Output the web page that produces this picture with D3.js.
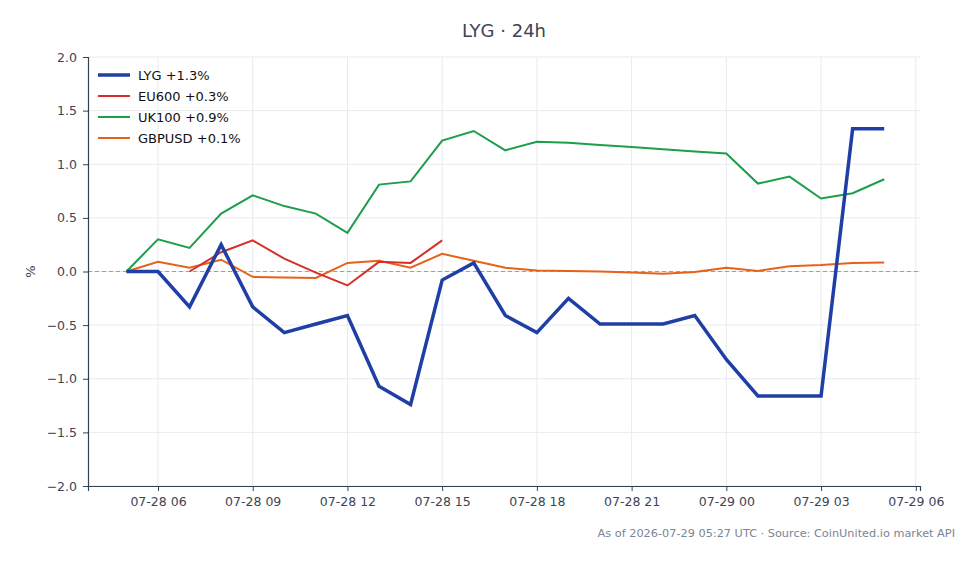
<!DOCTYPE html>
<html>
<head>
<meta charset="utf-8">
<script src="https://cdn.jsdelivr.net/npm/d3@7"></script>
<style>
  body { margin: 0; background: #fff; }
  text { font-family: "DejaVu Sans", sans-serif; }
</style>
</head>
<body>
<div id="chart"></div>
<script>
// hourly points, 2026-07-28 05:00 UTC .. 2026-07-29 05:00 UTC
var hours = d3.range(25).map(function (i) {
  return new Date(Date.UTC(2026, 6, 28, 5 + i));
});

var lyg = [0, 0, -0.33, 0.25, -0.33, -0.57, -0.49, -0.41, -1.07, -1.24, -0.08, 0.08, -0.41,
  -0.57, -0.25, -0.49, -0.49, -0.49, -0.41, -0.82, -1.16, -1.16, -1.16, 1.33, 1.33];
var eu600 = [null, null, 0, 0.18, 0.29, 0.12, -0.01, -0.13, 0.09, 0.08, 0.29, null, null,
  null, null, null, null, null, null, null, null, null, null, null, null];
var uk100 = [0, 0.30, 0.22, 0.54, 0.71, 0.61, 0.54, 0.36, 0.81, 0.84, 1.22, 1.31, 1.13,
  1.21, 1.20, 1.18, 1.16, 1.14, 1.12, 1.10, 0.82, 0.885, 0.68, 0.73, 0.86];
var gbpusd = [0, 0.09, 0.035, 0.11, -0.05, -0.055, -0.06, 0.08, 0.10, 0.035, 0.165, 0.10, 0.035,
  0.01, 0.005, 0, -0.01, -0.02, -0.005, 0.035, 0.005, 0.05, 0.06, 0.08, 0.085];

var seriesNames = ["LYG +1.3%", "EU600 +0.3%", "UK100 +0.9%", "GBPUSD +0.1%"];
var seriesColors = ["#1f3fa6", "#d62f2a", "#1c9e4b", "#e8611a"];
var seriesWidths = [3.5, 2, 2, 2];
var yTicks = [-2.0, -1.5, -1.0, -0.5, 0.0, 0.5, 1.0, 1.5, 2.0];

var width = 979, height = 564;
var margin = { top: 57, right: 59, bottom: 78, left: 88 };
var w = width - margin.left - margin.right;
var h = height - margin.top - margin.bottom;

var svg = d3.select("#chart").append("svg")
  .attr("width", width)
  .attr("height", height);

var x = d3.scaleUtc()
  .domain([new Date(Date.UTC(2026, 6, 28, 3, 47)), new Date(Date.UTC(2026, 6, 29, 6, 8))])
  .range([0, w]);
var y = d3.scaleLinear().domain([-2, 2]).range([h, 0]);

var g = svg.append("g")
  .attr("transform", "translate(" + margin.left + "," + margin.top + ")");

var xTicks = x.ticks(d3.utcHour.every(3));

// grid
g.append("g").selectAll("line").data(yTicks).enter().append("line")
  .attr("x1", 0).attr("x2", w)
  .attr("y1", function (d) { return y(d); })
  .attr("y2", function (d) { return y(d); })
  .attr("stroke", "#e8eaee").attr("stroke-width", 1);
g.append("g").selectAll("line").data(xTicks).enter().append("line")
  .attr("y1", 0).attr("y2", h)
  .attr("x1", function (d) { return x(d); })
  .attr("x2", function (d) { return x(d); })
  .attr("stroke", "#e8eaee").attr("stroke-width", 1);

// zero line
g.append("line")
  .attr("x1", 0).attr("x2", w)
  .attr("y1", y(0)).attr("y2", y(0))
  .attr("stroke", "#94a0b8").attr("stroke-width", 1)
  .attr("stroke-dasharray", "4,3");

// lines
var allSeries = [lyg, eu600, uk100, gbpusd];
var line = d3.line()
  .defined(function (d) { return d[1] !== null; })
  .x(function (d) { return x(d[0]); })
  .y(function (d) { return y(d[1]); });

[3, 2, 1, 0].forEach(function (i) {
  var pts = hours.map(function (t, k) { return [t, allSeries[i][k]]; });
  g.append("path")
    .datum(pts)
    .attr("d", line)
    .attr("fill", "none")
    .attr("stroke", seriesColors[i])
    .attr("stroke-width", seriesWidths[i])
    .attr("stroke-linejoin", "miter");
});

// axes
var axisColor = "#334155";
var xAxis = g.append("g")
  .attr("transform", "translate(0," + h + ")")
  .call(d3.axisBottom(x).tickValues(xTicks).tickFormat(d3.utcFormat("%m-%d %H")).tickSizeOuter(0).tickSize(5).tickPadding(6));
var yAxis = g.append("g")
  .call(d3.axisLeft(y).tickValues(yTicks).tickFormat(function (d) {
    return d3.format(".1f")(d).replace("-", "\u2212");
  }).tickSizeOuter(0).tickSize(5).tickPadding(6));
[xAxis, yAxis].forEach(function (a) {
  a.selectAll("path").attr("stroke", axisColor).attr("stroke-width", 1.2);
  a.selectAll("line").attr("stroke", axisColor);
  a.selectAll("text").attr("fill", "#3d4555").style("font-size", "12.5px")
    .style("font-family", "DejaVu Sans, sans-serif");
});

// y label
svg.append("text")
  .attr("transform", "translate(35," + (margin.top + y(0)) + ") rotate(-90)")
  .attr("text-anchor", "middle")
  .attr("fill", "#3d4555")
  .style("font-size", "13px")
  .text("%");

// title
svg.append("text")
  .attr("x", margin.left + w / 2)
  .attr("y", 37)
  .attr("text-anchor", "middle")
  .attr("fill", "#3d4555")
  .style("font-size", "18px")
  .text("LYG \u00b7 24h");

// legend
var legend = g.append("g").attr("transform", "translate(10,18)");
seriesNames.forEach(function (name, i) {
  var row = legend.append("g").attr("transform", "translate(0," + (i * 21) + ")");
  row.append("line")
    .attr("x1", 0).attr("x2", 32)
    .attr("stroke", seriesColors[i])
    .attr("stroke-width", seriesWidths[i]);
  row.append("text")
    .attr("x", 40).attr("y", 4.5)
    .attr("fill", "#111")
    .style("font-size", "13px")
    .text(name);
});

// footnote
svg.append("text")
  .attr("x", 955)
  .attr("y", 537)
  .attr("text-anchor", "end")
  .attr("fill", "#7b8494")
  .style("font-size", "11.3px")
  .text("As of 2026-07-29 05:27 UTC \u00b7 Source: CoinUnited.io market API");
</script>
</body>
</html>
